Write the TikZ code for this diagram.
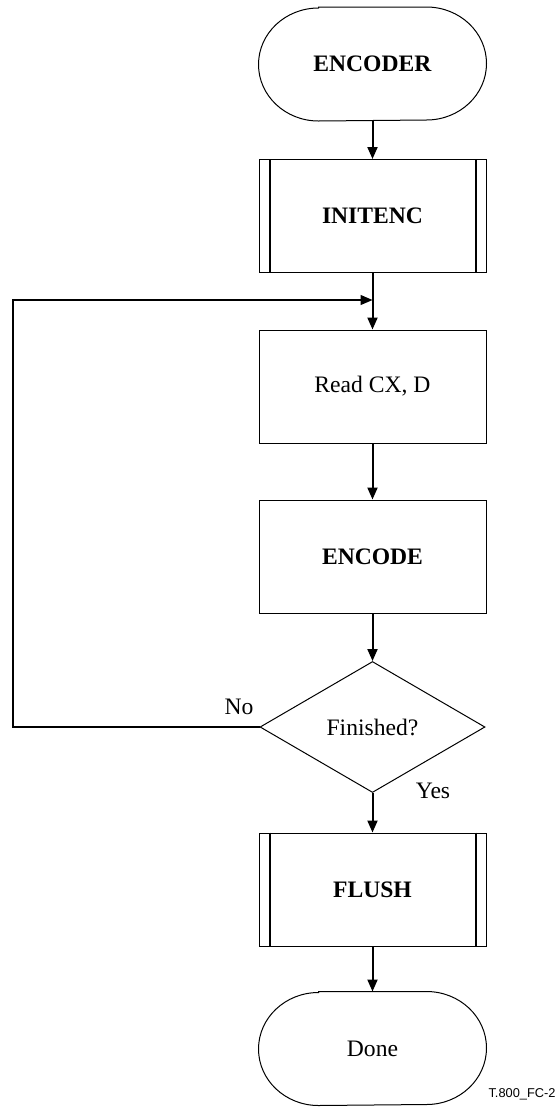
\documentclass[tikz,border=0pt]{standalone}
\usepackage{fontspec}
\setmainfont{Liberation Serif}
\newfontfamily\labelsans{Liberation Sans}
\usetikzlibrary{shapes.geometric,arrows.meta}
\begin{document}
\begin{tikzpicture}[x=0.5pt,y=-0.5pt,
  every node/.style={font=\fontsize{11.8}{14}\selectfont},
  boxbase/.style={line width=0.5pt, minimum width=113.5pt, minimum height=56.5pt, inner sep=0pt},
  term/.style={boxbase},
  proc/.style={boxbase, draw},
  cond/.style={draw, line width=0.5pt, diamond, minimum width=112.5pt, minimum height=65.5pt, inner sep=0pt},
  arr/.style={line width=1pt, -{Triangle[length=6pt,width=5pt]}},
  loopline/.style={line width=0.6pt, -{Triangle[length=6pt,width=5pt]}},
  sideline/.style={line width=1pt},
  outline/.style={line width=0.5pt}]
\useasboundingbox (0,0) rectangle (555,1109);
\node[term] (enc) at (372.5,64) {\textbf{ENCODER}};
\node[proc] (init) at (372.5,216) {\textbf{INITENC}};
\node[proc] (read) at (372.5,386.5) {Read CX, D};
\node[proc] (encode) at (372.5,556.5) {\textbf{ENCODE}};
\node[cond] (dec) at (372.5,727) {Finished?};
\node[proc] (flush) at (372.5,889.5) {\textbf{FLUSH}};
\node[term] (done) at (372.5,1048.5) {Done};
\foreach \n in {enc,done}{
  \draw[outline] ([xshift=30pt]\n.north west) -- ([xshift=-30pt]\n.north east)
    arc[start angle=90, end angle=-90, x radius=30pt, y radius=28.25pt]
    -- ([xshift=30pt]\n.south west)
    arc[start angle=-90, end angle=-270, x radius=30pt, y radius=28.25pt] -- cycle;
}
\foreach \n in {init,flush}{
  \draw[sideline] ([xshift=5.5pt]\n.north west) -- ([xshift=5.5pt]\n.south west);
  \draw[sideline] ([xshift=-5.5pt]\n.north east) -- ([xshift=-5.5pt]\n.south east);
}
\coordinate (merge) at (372.5,300);
\coordinate (lc) at (13,727);
\draw[arr] (enc.south) -- (init.north);
\draw[arr] (init.south) -- (read.north);
\draw[arr] (read.south) -- (encode.north);
\draw[arr] (encode.south) -- (dec.north);
\draw[arr] (dec.south) -- (flush.north);
\draw[arr] (flush.south) -- (done.north);
\draw[loopline] (dec.west) -- (lc) |- (merge);
\node (no) at (239,707) {No};
\node (yes) at (433,791) {Yes};
\node[font=\labelsans\fontsize{6.4}{8}\selectfont] (fig) at (522,1094) {T.800\_FC-2};
\end{tikzpicture}
\end{document}
